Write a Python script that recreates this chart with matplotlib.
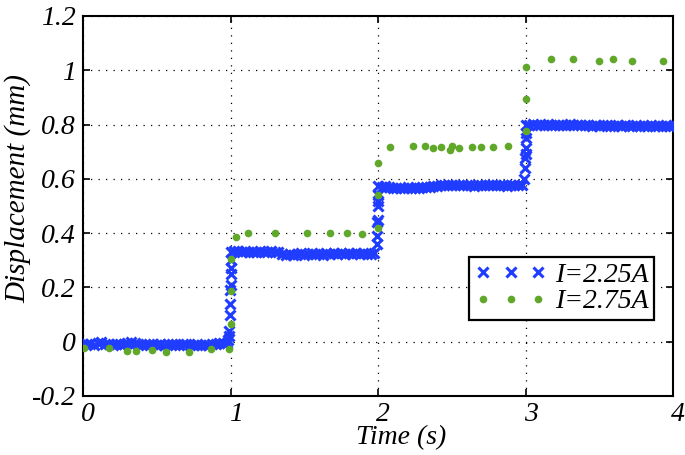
import numpy as np
import matplotlib
matplotlib.use("Agg")
import matplotlib.pyplot as plt
import matplotlib.transforms as mtransforms
from matplotlib.ticker import FuncFormatter

plt.rcParams["font.family"] = ["Liberation Serif", "DejaVu Serif"]
plt.rcParams["font.style"] = "italic"
plt.rcParams["axes.unicode_minus"] = False

# ---- data ----
dt = 0.025  # sampling step of the I=2.25A record

# I=2.25A, plateau values (one per sample)
blue_lvl0 = [-0.010, -0.008, -0.009, -0.011, -0.006, -0.002, -0.007, -0.010, -0.011, -0.009,
             -0.010, -0.008, -0.004, -0.002, -0.006, -0.010, -0.011, -0.012, -0.010, -0.009,
             -0.011, -0.010, -0.012, -0.009, -0.010, -0.011, -0.012, -0.010, -0.009, -0.011,
             -0.012, -0.010, -0.011, -0.014, -0.012, -0.010, -0.008, -0.006, -0.003, -0.005]
blue_lvl1 = [0.332, 0.334, 0.333, 0.332, 0.333, 0.331, 0.332, 0.330, 0.333, 0.332,
             0.331, 0.333, 0.332, 0.330, 0.322, 0.321, 0.324, 0.320, 0.322, 0.325,
             0.321, 0.323, 0.326, 0.322, 0.324, 0.321, 0.327, 0.323, 0.325, 0.322,
             0.326, 0.324, 0.327, 0.323, 0.325, 0.322, 0.326, 0.324, 0.323, 0.325]
blue_lvl2 = [0.572, 0.571, 0.573, 0.570, 0.566, 0.568, 0.565, 0.567, 0.569, 0.566,
             0.568, 0.566, 0.570, 0.571, 0.569, 0.572, 0.574, 0.578, 0.577, 0.579,
             0.576, 0.578, 0.577, 0.579, 0.576, 0.578, 0.575, 0.577, 0.578, 0.576,
             0.577, 0.579, 0.576, 0.578, 0.577, 0.575, 0.578, 0.576, 0.577, 0.578]
blue_lvl3 = [0.800, 0.799, 0.801, 0.800, 0.799, 0.800, 0.801, 0.799, 0.800, 0.798,
             0.800, 0.799, 0.801, 0.800, 0.798, 0.800, 0.799, 0.797, 0.796, 0.798,
             0.795, 0.797, 0.799, 0.796, 0.794, 0.797, 0.795, 0.798, 0.796, 0.794,
             0.797, 0.795, 0.796, 0.794, 0.797, 0.795, 0.796, 0.794, 0.797, 0.795, 0.796]

# I=2.25A, samples taken during the three jumps
blue_jump_t = [0.985, 0.990, 0.990, 0.995, 0.995, 0.995, 1.000, 1.000, 1.000, 1.000,
               1.990, 1.995, 1.995, 2.000, 2.000, 2.000, 2.000,
               2.990, 2.995, 2.995, 3.000, 3.000, 3.000, 3.000]
blue_jump_y = [0.005, 0.020, 0.040, 0.100, 0.140, 0.190, 0.210, 0.250, 0.270, 0.300,
               0.360, 0.390, 0.440, 0.450, 0.500, 0.520, 0.540,
               0.600, 0.640, 0.675, 0.690, 0.715, 0.750, 0.770]

# I=2.75A
green_t = [0.007, 0.176, 0.300, 0.360, 0.470, 0.560, 0.720, 0.870, 0.990,
           1.003, 1.003, 1.003,
           1.037, 1.119, 1.300, 1.520, 1.675, 1.790, 1.890,
           2.000, 2.000, 2.000,
           2.080, 2.240, 2.320, 2.370, 2.430, 2.490, 2.500, 2.550, 2.640, 2.700, 2.780, 2.880,
           3.000, 3.000, 3.000,
           3.170, 3.320, 3.500, 3.590, 3.720, 3.930]
green_y = [-0.022, -0.022, -0.033, -0.033, -0.030, -0.037, -0.037, -0.026, -0.026,
           0.066, 0.188, 0.306,
           0.387, 0.399, 0.399, 0.399, 0.399, 0.399, 0.395,
           0.420, 0.539, 0.657,
           0.716, 0.720, 0.720, 0.712, 0.716, 0.708, 0.720, 0.712, 0.716, 0.716, 0.716, 0.720,
           0.775, 0.893, 1.011,
           1.040, 1.040, 1.033, 1.040, 1.033, 1.033]

x_ticks = [0, 1, 2, 3, 4]
y_ticks = [-0.2, 0, 0.2, 0.4, 0.6, 0.8, 1.0, 1.2]

# sample times of the plateaus
t0 = np.arange(len(blue_lvl0)) * dt
t1 = 1.0 + np.arange(len(blue_lvl1)) * dt
t2 = 2.0 + np.arange(len(blue_lvl2)) * dt
t3 = 3.0 + np.arange(len(blue_lvl3)) * dt
blue_t = np.concatenate([t0, blue_jump_t[:10], t1, blue_jump_t[10:17], t2, blue_jump_t[17:], t3])
blue_y = np.concatenate([blue_lvl0, blue_jump_y[:10], blue_lvl1, blue_jump_y[10:17],
                         blue_lvl2, blue_jump_y[17:], blue_lvl3])

fig = plt.figure(figsize=(6.85, 4.55), dpi=100)
ax = fig.add_axes([0.1212, 0.1297, 0.8613, 0.8352])

blue = "#1f3cff"
green = "#5fa82a"
ax.plot(blue_t, blue_y, linestyle="none", marker="x", ms=6.5, mew=2.2, color=blue,
        label="I=2.25A", zorder=3)
ax.plot(green_t, green_y, linestyle="none", marker="o", ms=5.5, mew=0, color=green,
        label="I=2.75A", zorder=4)

ax.set_xlim(0, 4)
ax.set_ylim(-0.2, 1.2)
ax.set_xticks(x_ticks)
ax.set_yticks(y_ticks)
fmt = FuncFormatter(lambda v, p: "%g" % v)
ax.xaxis.set_major_formatter(fmt)
ax.yaxis.set_major_formatter(fmt)
ax.tick_params(direction="in", length=5, width=1.2, labelsize=20, top=True, right=True)
ax.tick_params(axis="x", pad=4)
ax.tick_params(axis="y", pad=5)
ax.grid(True, color="black", linestyle=(0, (1, 5)), linewidth=0.9)
for s in ax.spines.values():
    s.set_linewidth(1.5)

# italic digits sit a little right of their ticks
shift = mtransforms.ScaledTranslation(5 / 100, 0, fig.dpi_scale_trans)
for lab in ax.get_xticklabels():
    lab.set_transform(lab.get_transform() + shift)

ax.set_xlabel("Time (s)", fontsize=20)
ax.set_ylabel("Displacement (mm)", fontsize=21)
ax.xaxis.set_label_coords(0.539, -0.077)
ax.yaxis.set_label_coords(-0.088, 0.545)

leg = ax.legend(loc="lower right", bbox_to_anchor=(0.968, 0.2), borderaxespad=0,
                numpoints=3, fontsize=20, handlelength=2.6, handletextpad=0.3,
                labelspacing=0.05, borderpad=0.2, fancybox=False, framealpha=1)
leg.get_frame().set_edgecolor("black")
leg.get_frame().set_linewidth(1.6)

fig.savefig("out.png", dpi=100)
